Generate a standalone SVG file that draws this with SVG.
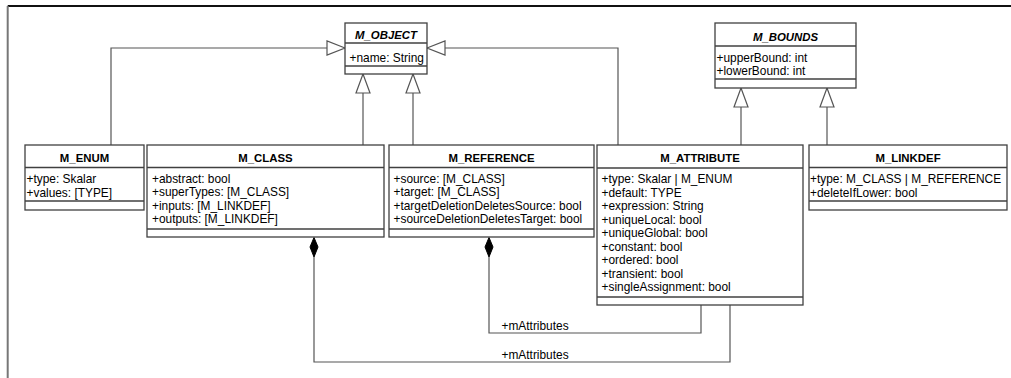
<svg xmlns="http://www.w3.org/2000/svg" width="1011" height="378" viewBox="0 0 1011 378">
<style>
  .box { fill: #ffffff; stroke: #404040; stroke-width: 1.3; }
  .div { stroke: #404040; stroke-width: 1.3; fill: none; }
  .title { font-family: "Liberation Sans", Arial, sans-serif; font-size: 11.4px; font-weight: bold; fill: #000; text-anchor: middle; }
  .abs { font-style: italic; }
  .attr { font-family: "Liberation Sans", Arial, sans-serif; font-size: 11.9px; fill: #000; }
  .conn { fill: none; stroke: #555555; stroke-width: 1.2; }
  .gen { fill: #ffffff; stroke: #555555; stroke-width: 1.2; }
  .comp { fill: #000000; stroke: #000000; stroke-width: 1; }
  .lbl { font-family: "Liberation Sans", Arial, sans-serif; font-size: 11.9px; fill: #000; }
</style>
<rect x="0" y="0" width="1011" height="378" fill="#ffffff"/>
<g id="frame">
  <line x1="7.7" y1="6" x2="1011" y2="6" stroke="#111111" stroke-width="2"/>
  <line x1="7.7" y1="6" x2="7.7" y2="378" stroke="#777777" stroke-width="2"/>
</g>
<g id="connectors">
  <!-- generalizations to M_OBJECT -->
  <polyline class="conn" points="111,145 111,48 327,48"/>
  <polygon class="gen" points="345,48 327,41 327,55"/>
  <polyline class="conn" points="618,145 618,48 445,48"/>
  <polygon class="gen" points="427,48 445,41 445,55"/>
  <line class="conn" x1="363" y1="145" x2="363" y2="93"/>
  <polygon class="gen" points="363,74 356,93 370,93"/>
  <line class="conn" x1="413" y1="145" x2="413" y2="93"/>
  <polygon class="gen" points="413,74 406,93 420,93"/>
  <!-- generalizations to M_BOUNDS -->
  <line class="conn" x1="741" y1="145" x2="741" y2="107"/>
  <polygon class="gen" points="741,88 734,107 748,107"/>
  <line class="conn" x1="827" y1="145" x2="827" y2="107"/>
  <polygon class="gen" points="827,88 820,107 834,107"/>
  <!-- compositions -->
  <polyline class="conn" points="314,257 314,362 730,362 730,305"/>
  <polygon class="comp" points="314,237.5 318,247 314,257 310,247"/>
  <polyline class="conn" points="489,257 489,333 701,333 701,305"/>
  <polygon class="comp" points="489,237.5 493,247 489,257 485,247"/>
  <text class="lbl" x="501.5" y="329.5">+mAttributes</text>
  <text class="lbl" x="501.5" y="358.5">+mAttributes</text>
</g>
<g id="M_OBJECT">
  <rect class="box" x="345" y="23" width="82" height="51"/>
  <line class="div" x1="345" y1="43" x2="427" y2="43"/>
  <line class="div" x1="345" y1="66" x2="427" y2="66"/>
  <text class="title abs" x="386" y="39">M_OBJECT</text>
  <text class="attr" x="349.5" y="61.5">+name: String</text>
</g>
<g id="M_BOUNDS">
  <rect class="box" x="715" y="23" width="141" height="65"/>
  <line class="div" x1="715" y1="46" x2="856" y2="46"/>
  <line class="div" x1="715" y1="79" x2="856" y2="79"/>
  <text class="title abs" x="785.5" y="40.5">M_BOUNDS</text>
  <text class="attr" x="716.5" y="61.5">+upperBound: int</text>
  <text class="attr" x="716.5" y="75">+lowerBound: int</text>
</g>
<g id="M_ENUM">
  <rect class="box" x="25" y="145" width="119" height="65"/>
  <line class="div" x1="25" y1="167.5" x2="144" y2="167.5"/>
  <line class="div" x1="25" y1="201" x2="144" y2="201"/>
  <text class="title" x="84.5" y="161.7">M_ENUM</text>
  <text class="attr" x="26.5" y="183">+type: Skalar</text>
  <text class="attr" x="26.5" y="196.5">+values: [TYPE]</text>
</g>
<g id="M_CLASS">
  <rect class="box" x="147" y="145" width="237" height="92"/>
  <line class="div" x1="147" y1="167.5" x2="384" y2="167.5"/>
  <line class="div" x1="147" y1="229" x2="384" y2="229"/>
  <text class="title" x="265.5" y="161.7">M_CLASS</text>
  <text class="attr" x="152" y="183">+abstract: bool</text>
  <text class="attr" x="152" y="196.4">+superTypes: [M_CLASS]</text>
  <text class="attr" x="152" y="209.8">+inputs: [M_LINKDEF]</text>
  <text class="attr" x="152" y="223.2">+outputs: [M_LINKDEF]</text>
</g>
<g id="M_REFERENCE">
  <rect class="box" x="389" y="145" width="205" height="92"/>
  <line class="div" x1="389" y1="167.5" x2="594" y2="167.5"/>
  <line class="div" x1="389" y1="229" x2="594" y2="229"/>
  <text class="title" x="491.5" y="161.7">M_REFERENCE</text>
  <text class="attr" x="393.5" y="183">+source: [M_CLASS]</text>
  <text class="attr" x="393.5" y="196.4">+target: [M_CLASS]</text>
  <text class="attr" x="393.5" y="209.8">+targetDeletionDeletesSource: bool</text>
  <text class="attr" x="393.5" y="223.2">+sourceDeletionDeletesTarget: bool</text>
</g>
<g id="M_ATTRIBUTE">
  <rect class="box" x="597" y="145" width="206" height="160"/>
  <line class="div" x1="597" y1="168" x2="803" y2="168"/>
  <line class="div" x1="597" y1="297" x2="803" y2="297"/>
  <text class="title" x="700" y="162.2">M_ATTRIBUTE</text>
  <text class="attr" x="601.5" y="183.2">+type: Skalar | M_ENUM</text>
  <text class="attr" x="601.5" y="196.7">+default: TYPE</text>
  <text class="attr" x="601.5" y="210.2">+expression: String</text>
  <text class="attr" x="601.5" y="223.7">+uniqueLocal: bool</text>
  <text class="attr" x="601.5" y="237.2">+uniqueGlobal: bool</text>
  <text class="attr" x="601.5" y="250.7">+constant: bool</text>
  <text class="attr" x="601.5" y="264.2">+ordered: bool</text>
  <text class="attr" x="601.5" y="277.7">+transient: bool</text>
  <text class="attr" x="601.5" y="291.2">+singleAssignment: bool</text>
</g>
<g id="M_LINKDEF">
  <rect class="box" x="809" y="145" width="198" height="65"/>
  <line class="div" x1="809" y1="167.5" x2="1007" y2="167.5"/>
  <line class="div" x1="809" y1="201" x2="1007" y2="201"/>
  <text class="title" x="908" y="161.7">M_LINKDEF</text>
  <text class="attr" x="810" y="183">+type: M_CLASS | M_REFERENCE</text>
  <text class="attr" x="810" y="196.5">+deleteIfLower: bool</text>
</g>
</svg>
